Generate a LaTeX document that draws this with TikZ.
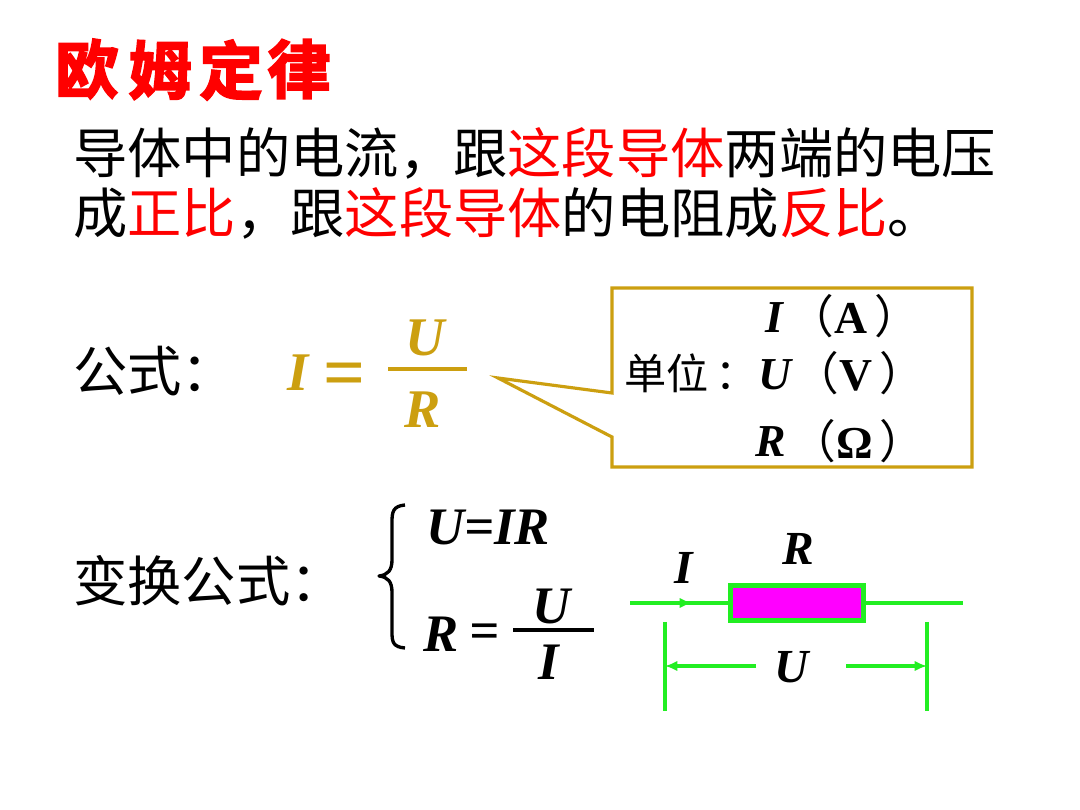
\documentclass[tikz,border=0pt]{standalone}
\usepackage{fontspec}
\setmainfont{Liberation Serif}
\newfontfamily\cjk{Noto Sans CJK SC}
\newfontfamily\cjktitle[FakeBold=3]{Noto Sans CJK SC Bold}
\usetikzlibrary{arrows.meta}
\definecolor{gold}{HTML}{CC9F10}
\definecolor{wire}{HTML}{22EE22}
\definecolor{pink}{HTML}{FF00FF}
\newcommand{\redtxt}[1]{\textcolor{red}{#1}}
\newcommand{\fpl}{{\mdseries\upshape\cjk（}}
\newcommand{\fpr}{\hspace{4pt}{\mdseries\upshape\cjk）}}
\begin{document}
\begin{tikzpicture}[x=0.02cm,y=-0.02cm]
\tikzset{every node/.style={inner sep=0pt}}
\tikzset{bodytext/.style={anchor=west,font=\cjk\fontsize{30.9}{34}\selectfont}}
\tikzset{titletext/.style={text=red,font=\cjktitle\fontsize{36}{40}\selectfont}}
\tikzset{gsym/.style={text=gold,font=\bfseries\itshape\fontsize{31}{36}\selectfont}}
\tikzset{bsym/.style={font=\bfseries\itshape\fontsize{30}{34}\selectfont}}
\tikzset{usym/.style={font=\bfseries\itshape\fontsize{26}{30}\selectfont}}
\tikzset{dsym/.style={font=\bfseries\itshape\fontsize{27}{30}\selectfont}}
\tikzset{unit/.style={anchor=west,font=\bfseries\fontsize{26}{30}\selectfont}}
\tikzset{wireline/.style={draw=wire,line width=2.2pt}}
\tikzset{wiretip/.style={-{Latex[length=7pt,width=6pt]}}}
\useasboundingbox (0,0) rectangle (1080,810);
\fill[white] (0,0) rectangle (1080,810);
% title
\node[titletext] (t1) at (87,69) {欧};
\node[titletext] (t2) at (160,70) {姆};
\node[titletext] (t3) at (231,70) {定};
\node[titletext] (t4) at (299,69) {律};
% statement
\node[bodytext] (line1) at (73,153) {导体中的电流，跟\redtxt{这段导体}两端的电压};
\node[bodytext] (line2) at (73,213) {成\redtxt{正比}，跟\redtxt{这段导体}的电阻成\redtxt{反比}。};
% formula
\node[bodytext] (formula) at (73,371) {公式：};
\node[gsym] (fi) at (298,373) {I};
\node[gsym,font=\bfseries\fontsize{42}{42}\selectfont] (feq) at (345,380) {=};
\node[gsym] (fu) at (425,338) {U};
\node[gsym] (fr) at (423,410) {R};
\draw[gold,line width=2pt] (388,369) -- (467,369);
% callout
\draw[gold,line width=1.8pt] (612,288) -- (972,288) -- (972,467) -- (612,467) -- (612,437) -- (498,378) -- (612,393) -- cycle;
\node[anchor=west,font=\cjk\fontsize{24}{28}\selectfont] (unitlab) at (624,373) {单位\hspace{4pt}：};
\node[usym] (ui) at (774,318) {I};
\node[unit] (ua) at (788,316) {\fpl A\fpr};
\node[usym] (uu) at (775,375) {U};
\node[unit] (uv) at (793,373) {\fpl V\fpr};
\node[usym] (ur) at (771,442) {R};
\node[unit] (uo) at (790,441) {\fpl\symbol{"03A9}\fpr};
% transformed formula
\node[bodytext] (trans) at (73,581) {变换公式：};
\draw[black,line width=1.9pt,line join=round] (405,505) .. controls (393,506) and (392,512) .. (392,522) -- (392,560) .. controls (392,570) and (388,575) .. (379,576) .. controls (388,577) and (392,582) .. (392,592) -- (392,632) .. controls (392,642) and (393,647) .. (405,648);
\node[bsym,anchor=west] (ohm) at (426,527) {U=IR};
\node[bsym,anchor=west] (rr) at (423,634) {R};
\node[bsym] (req) at (485,636) {=};
\node[bsym] (du) at (552,606) {U};
\node[bsym] (di) at (549,662) {I};
\draw[black,line width=2pt] (513,630) -- (594,630);
% resistor
\node[draw=wire,fill=pink,line width=2.6pt,minimum width=2.66cm,minimum height=0.7cm] (res) at (797,603) {};
\coordinate (wl) at (630,603);
\coordinate (wm) at (692,603);
\coordinate (wr) at (963,603);
\draw[wireline] (wl) -- (res.west);
\draw[wireline,wiretip] (wl) -- (wm);
\draw[wireline] (res.east) -- (wr);
\node[dsym] (cur) at (684,568) {I};
\node[dsym] (rlab) at (798,549) {R};
% voltage span
\coordinate (lt) at (665,622);
\coordinate (lb) at (665,711);
\coordinate (rt) at (927,622);
\coordinate (rb) at (927,711);
\coordinate (lm) at (665,666);
\coordinate (rm) at (927,666);
\coordinate (la) at (756,666);
\coordinate (ra) at (846,666);
\draw[wireline] (lt) -- (lb);
\draw[wireline] (rt) -- (rb);
\draw[wireline,wiretip] (la) -- (lm);
\draw[wireline,wiretip] (ra) -- (rm);
\node[dsym] (vlab) at (792,667) {U};
\end{tikzpicture}
\end{document}
